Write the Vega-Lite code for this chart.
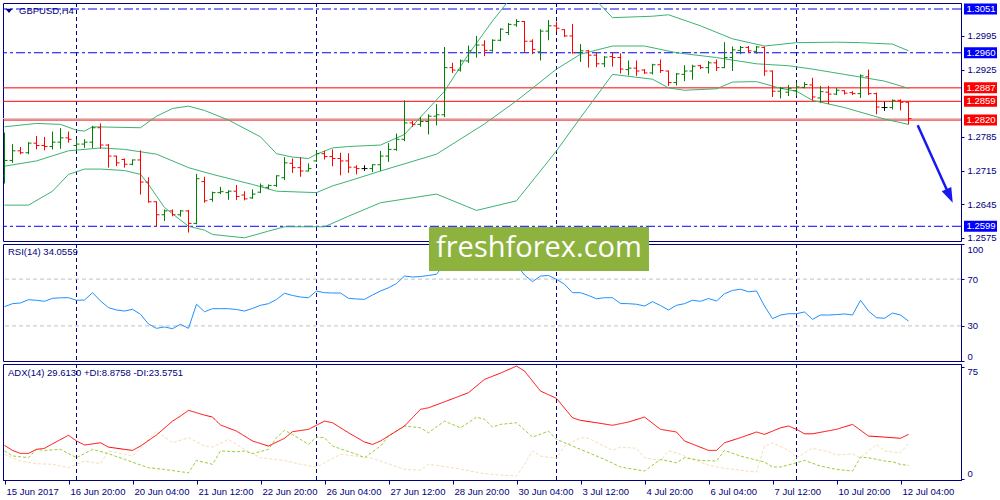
{
"$schema":"https://vega.github.io/schema/vega-lite/v6.json",
"background":"white",
"padding":{"left":2,"top":2,"right":0,"bottom":0},
"autosize":{"type":"pad"},
"bounds":"flush",
"spacing":3,
"resolve":{"scale":{"color":"independent","strokeDash":"independent"}},
"config":{"font":"Liberation Sans","view":{"stroke":"#000080","strokeWidth":1},
"axis":{"domainColor":"#000080","tickColor":"#000080","labelColor":"#000080","labelFont":"Liberation Sans","labelFontSize":9.5,"tickSize":3,"labelPadding":3,"grid":false}},
"datasets":{
"grid":[{"i":9},{"i":39},{"i":69},{"i":99}],
"levels":[{"p":1.3051,"type":"range"},{"p":1.2960,"type":"range"},{"p":1.2599,"type":"range"},{"p":1.2887,"type":"pivot"},{"p":1.2859,"type":"pivot"},{"p":1.2820,"type":"pivot"}],
"arrow":[{"i":114.15,"p":1.2809},{"i":118.14,"p":1.2662}],
"arrowhead":[{"i":118.14,"p":1.2662}],
"bars":[
{"i":0,"o":1.2704,"h":1.2794,"l":1.2688,"c":1.2736},
{"i":1,"o":1.2736,"h":1.2770,"l":1.2731,"c":1.2756},
{"i":2,"o":1.2756,"h":1.2764,"l":1.2749,"c":1.2752},
{"i":3,"o":1.2752,"h":1.2774,"l":1.2749,"c":1.2772},
{"i":4,"o":1.2772,"h":1.2787,"l":1.2759,"c":1.2767},
{"i":5,"o":1.2767,"h":1.2785,"l":1.2757,"c":1.2765},
{"i":6,"o":1.2765,"h":1.2796,"l":1.2759,"c":1.2774},
{"i":7,"o":1.2774,"h":1.2803,"l":1.2760,"c":1.2783},
{"i":8,"o":1.2783,"h":1.2796,"l":1.2773,"c":1.2780},
{"i":9,"o":1.2767,"h":1.2780,"l":1.2757,"c":1.2770},
{"i":10,"o":1.2770,"h":1.2780,"l":1.2762,"c":1.2774},
{"i":11,"o":1.2774,"h":1.2808,"l":1.2762,"c":1.2804},
{"i":12,"o":1.2804,"h":1.2813,"l":1.2760,"c":1.2768},
{"i":13,"o":1.2768,"h":1.2770,"l":1.2721,"c":1.2745},
{"i":14,"o":1.2745,"h":1.2746,"l":1.2724,"c":1.2731},
{"i":15,"o":1.2738,"h":1.2740,"l":1.2721,"c":1.2728},
{"i":16,"o":1.2728,"h":1.2738,"l":1.2726,"c":1.2737},
{"i":17,"o":1.2737,"h":1.2757,"l":1.2665,"c":1.2691},
{"i":18,"o":1.2691,"h":1.2701,"l":1.2648,"c":1.2650},
{"i":19,"o":1.2650,"h":1.2651,"l":1.2599,"c":1.2623},
{"i":20,"o":1.2623,"h":1.2634,"l":1.2610,"c":1.2631},
{"i":21,"o":1.2631,"h":1.2634,"l":1.2620,"c":1.2623},
{"i":22,"o":1.2623,"h":1.2633,"l":1.2619,"c":1.2631},
{"i":23,"o":1.2631,"h":1.2633,"l":1.2586,"c":1.2605},
{"i":24,"o":1.2605,"h":1.2708,"l":1.2603,"c":1.2698},
{"i":25,"o":1.2692,"h":1.2702,"l":1.2648,"c":1.2652},
{"i":26,"o":1.2655,"h":1.2671,"l":1.2650,"c":1.2669},
{"i":27,"o":1.2669,"h":1.2681,"l":1.2666,"c":1.2671},
{"i":28,"o":1.2669,"h":1.2674,"l":1.2654,"c":1.2672},
{"i":29,"o":1.2672,"h":1.2685,"l":1.2654,"c":1.2661},
{"i":30,"o":1.2664,"h":1.2672,"l":1.2653,"c":1.2656},
{"i":31,"o":1.2658,"h":1.2676,"l":1.2656,"c":1.2666},
{"i":32,"o":1.2670,"h":1.2688,"l":1.2668,"c":1.2683},
{"i":33,"o":1.2680,"h":1.2686,"l":1.2676,"c":1.2684},
{"i":34,"o":1.2684,"h":1.2705,"l":1.2681,"c":1.2704},
{"i":35,"o":1.2700,"h":1.2743,"l":1.2695,"c":1.2731},
{"i":36,"o":1.2730,"h":1.2740,"l":1.2710,"c":1.2721},
{"i":37,"o":1.2721,"h":1.2743,"l":1.2702,"c":1.2714},
{"i":38,"o":1.2714,"h":1.2730,"l":1.2713,"c":1.2719},
{"i":39,"o":1.2735,"h":1.2756,"l":1.2733,"c":1.2750},
{"i":40,"o":1.2750,"h":1.2756,"l":1.2738,"c":1.2744},
{"i":41,"o":1.2744,"h":1.2759,"l":1.2724,"c":1.2740},
{"i":42,"o":1.2740,"h":1.2752,"l":1.2705,"c":1.2735},
{"i":43,"o":1.2735,"h":1.2751,"l":1.2710,"c":1.2722},
{"i":44,"o":1.2722,"h":1.2726,"l":1.2707,"c":1.2719},
{"i":45,"o":1.2719,"h":1.2726,"l":1.2714,"c":1.2719},
{"i":46,"o":1.2719,"h":1.2728,"l":1.2712,"c":1.2727},
{"i":47,"o":1.2727,"h":1.2756,"l":1.2714,"c":1.2745},
{"i":48,"o":1.2745,"h":1.2772,"l":1.2733,"c":1.2759},
{"i":49,"o":1.2759,"h":1.2792,"l":1.2756,"c":1.2780},
{"i":50,"o":1.2780,"h":1.2861,"l":1.2776,"c":1.2814},
{"i":51,"o":1.2814,"h":1.2818,"l":1.2806,"c":1.2811},
{"i":52,"o":1.2811,"h":1.2826,"l":1.2806,"c":1.2817},
{"i":53,"o":1.2817,"h":1.2832,"l":1.2790,"c":1.2828},
{"i":54,"o":1.2828,"h":1.2853,"l":1.2809,"c":1.2831},
{"i":55,"o":1.2831,"h":1.2972,"l":1.2826,"c":1.2929},
{"i":56,"o":1.2929,"h":1.2939,"l":1.2918,"c":1.2924},
{"i":57,"o":1.2924,"h":1.2946,"l":1.2921,"c":1.2943},
{"i":58,"o":1.2943,"h":1.2975,"l":1.2939,"c":1.2964},
{"i":59,"o":1.2960,"h":1.2995,"l":1.2950,"c":1.2976},
{"i":60,"o":1.2976,"h":1.2986,"l":1.2953,"c":1.2965},
{"i":61,"o":1.2965,"h":1.2988,"l":1.2962,"c":1.2986},
{"i":62,"o":1.2986,"h":1.3011,"l":1.2984,"c":1.3009},
{"i":63,"o":1.3002,"h":1.3022,"l":1.2997,"c":1.3019},
{"i":64,"o":1.3018,"h":1.3030,"l":1.3014,"c":1.3025},
{"i":65,"o":1.3025,"h":1.3026,"l":1.2960,"c":1.2984},
{"i":66,"o":1.2984,"h":1.2988,"l":1.2957,"c":1.2967},
{"i":67,"o":1.2962,"h":1.3009,"l":1.2944,"c":1.3005},
{"i":68,"o":1.3005,"h":1.3028,"l":1.2986,"c":1.3016},
{"i":69,"o":1.3016,"h":1.3025,"l":1.3004,"c":1.3011},
{"i":70,"o":1.3008,"h":1.3009,"l":1.2993,"c":1.2995},
{"i":71,"o":1.2995,"h":1.3020,"l":1.2958,"c":1.2960},
{"i":72,"o":1.2960,"h":1.2978,"l":1.2941,"c":1.2964},
{"i":73,"o":1.2964,"h":1.2966,"l":1.2929,"c":1.2955},
{"i":74,"o":1.2955,"h":1.2960,"l":1.2930,"c":1.2937},
{"i":75,"o":1.2937,"h":1.2953,"l":1.2930,"c":1.2951},
{"i":76,"o":1.2952,"h":1.2960,"l":1.2931,"c":1.2950},
{"i":77,"o":1.2950,"h":1.2959,"l":1.2917,"c":1.2926},
{"i":78,"o":1.2925,"h":1.2944,"l":1.2913,"c":1.2928},
{"i":79,"o":1.2928,"h":1.2944,"l":1.2912,"c":1.2922},
{"i":80,"o":1.2924,"h":1.2926,"l":1.2916,"c":1.2918},
{"i":81,"o":1.2918,"h":1.2937,"l":1.2915,"c":1.2935},
{"i":82,"o":1.2935,"h":1.2946,"l":1.2918,"c":1.2923},
{"i":83,"o":1.2922,"h":1.2923,"l":1.2891,"c":1.2898},
{"i":84,"o":1.2898,"h":1.2918,"l":1.2892,"c":1.2916},
{"i":85,"o":1.2915,"h":1.2934,"l":1.2901,"c":1.2922},
{"i":86,"o":1.2922,"h":1.2935,"l":1.2904,"c":1.2932},
{"i":87,"o":1.2933,"h":1.2935,"l":1.2926,"c":1.2929},
{"i":88,"o":1.2929,"h":1.2943,"l":1.2917,"c":1.2939},
{"i":89,"o":1.2939,"h":1.2946,"l":1.2922,"c":1.2929},
{"i":90,"o":1.2929,"h":1.2982,"l":1.2928,"c":1.2950},
{"i":91,"o":1.2950,"h":1.2973,"l":1.2922,"c":1.2966},
{"i":92,"o":1.2965,"h":1.2974,"l":1.2957,"c":1.2971},
{"i":93,"o":1.2971,"h":1.2974,"l":1.2960,"c":1.2964},
{"i":94,"o":1.2963,"h":1.2974,"l":1.2958,"c":1.2972},
{"i":95,"o":1.2971,"h":1.2973,"l":1.2912,"c":1.2922},
{"i":96,"o":1.2922,"h":1.2923,"l":1.2868,"c":1.2880},
{"i":97,"o":1.2880,"h":1.2889,"l":1.2865,"c":1.2886},
{"i":98,"o":1.2878,"h":1.2893,"l":1.2870,"c":1.2886},
{"i":99,"o":1.2881,"h":1.2898,"l":1.2870,"c":1.2889},
{"i":100,"o":1.2888,"h":1.2899,"l":1.2886,"c":1.2894},
{"i":101,"o":1.2893,"h":1.2908,"l":1.2861,"c":1.2868},
{"i":102,"o":1.2866,"h":1.2891,"l":1.2856,"c":1.2879},
{"i":103,"o":1.2878,"h":1.2891,"l":1.2853,"c":1.2874},
{"i":104,"o":1.2874,"h":1.2887,"l":1.2872,"c":1.2882},
{"i":105,"o":1.2881,"h":1.2882,"l":1.2873,"c":1.2876},
{"i":106,"o":1.2877,"h":1.2880,"l":1.2872,"c":1.2875},
{"i":107,"o":1.2875,"h":1.2915,"l":1.2866,"c":1.2912},
{"i":108,"o":1.2910,"h":1.2925,"l":1.2872,"c":1.2875},
{"i":109,"o":1.2875,"h":1.2877,"l":1.2832,"c":1.2847},
{"i":110,"o":1.2846,"h":1.2858,"l":1.2839,"c":1.2846},
{"i":111,"o":1.2846,"h":1.2863,"l":1.2842,"c":1.2861},
{"i":112,"o":1.2861,"h":1.2863,"l":1.2840,"c":1.2857},
{"i":113,"o":1.2857,"h":1.2858,"l":1.2811,"c":1.2823}
],
"bb":[
{"band":"upper","i":0,"v":1.2806},{"band":"upper","i":4,"v":1.2813},{"band":"upper","i":7,"v":1.2811},{"band":"upper","i":9,"v":1.2799},{"band":"upper","i":10,"v":1.2797},{"band":"upper","i":11,"v":1.2806},{"band":"upper","i":17,"v":1.2804},{"band":"upper","i":19,"v":1.2828},{"band":"upper","i":21,"v":1.2844},{"band":"upper","i":23,"v":1.2849},{"band":"upper","i":25,"v":1.2840},{"band":"upper","i":28,"v":1.2820},{"band":"upper","i":32,"v":1.2785},{"band":"upper","i":34,"v":1.2750},{"band":"upper","i":36,"v":1.2743},{"band":"upper","i":38,"v":1.2740},{"band":"upper","i":39,"v":1.2749},{"band":"upper","i":41,"v":1.2762},{"band":"upper","i":43,"v":1.2765},{"band":"upper","i":47,"v":1.2768},{"band":"upper","i":50,"v":1.2790},{"band":"upper","i":55,"v":1.2880},{"band":"upper","i":58,"v":1.2957},{"band":"upper","i":61,"v":1.3026},{"band":"upper","i":63,"v":1.3068},{"band":"upper","i":66,"v":1.3099},{"band":"upper","i":68,"v":1.3109},{"band":"upper","i":72,"v":1.3090},{"band":"upper","i":74,"v":1.3068},{"band":"upper","i":76,"v":1.3033},{"band":"upper","i":81,"v":1.3036},{"band":"upper","i":83,"v":1.3039},{"band":"upper","i":87,"v":1.3016},{"band":"upper","i":91,"v":1.2989},{"band":"upper","i":95,"v":1.2974},{"band":"upper","i":99,"v":1.2981},{"band":"upper","i":104,"v":1.2982},{"band":"upper","i":107,"v":1.2981},{"band":"upper","i":111,"v":1.2978},{"band":"upper","i":113,"v":1.2964},
{"band":"mid","i":0,"v":1.2724},{"band":"mid","i":4,"v":1.2735},{"band":"mid","i":8,"v":1.2756},{"band":"mid","i":12,"v":1.2762},{"band":"mid","i":15,"v":1.2759},{"band":"mid","i":19,"v":1.2749},{"band":"mid","i":23,"v":1.2721},{"band":"mid","i":26,"v":1.2707},{"band":"mid","i":31,"v":1.2686},{"band":"mid","i":34,"v":1.2672},{"band":"mid","i":39,"v":1.2669},{"band":"mid","i":41,"v":1.2683},{"band":"mid","i":43,"v":1.2693},{"band":"mid","i":47,"v":1.2714},{"band":"mid","i":54,"v":1.2749},{"band":"mid","i":60,"v":1.2812},{"band":"mid","i":64,"v":1.2860},{"band":"mid","i":69,"v":1.2926},{"band":"mid","i":72,"v":1.2957},{"band":"mid","i":76,"v":1.2974},{"band":"mid","i":80,"v":1.2974},{"band":"mid","i":84,"v":1.2960},{"band":"mid","i":89,"v":1.2950},{"band":"mid","i":94,"v":1.2937},{"band":"mid","i":98,"v":1.2933},{"band":"mid","i":101,"v":1.2926},{"band":"mid","i":105,"v":1.2915},{"band":"mid","i":110,"v":1.2901},{"band":"mid","i":113,"v":1.2886},
{"band":"lower","i":0,"v":1.2643},{"band":"lower","i":3,"v":1.2643},{"band":"lower","i":6,"v":1.2672},{"band":"lower","i":8,"v":1.2707},{"band":"lower","i":10,"v":1.2718},{"band":"lower","i":12,"v":1.2718},{"band":"lower","i":15,"v":1.2715},{"band":"lower","i":17,"v":1.2707},{"band":"lower","i":18,"v":1.2686},{"band":"lower","i":20,"v":1.2638},{"band":"lower","i":23,"v":1.2599},{"band":"lower","i":25,"v":1.2591},{"band":"lower","i":26,"v":1.2582},{"band":"lower","i":30,"v":1.2575},{"band":"lower","i":33,"v":1.2589},{"band":"lower","i":35,"v":1.2598},{"band":"lower","i":40,"v":1.2598},{"band":"lower","i":43,"v":1.2620},{"band":"lower","i":47,"v":1.2648},{"band":"lower","i":54,"v":1.2666},{"band":"lower","i":59,"v":1.2632},{"band":"lower","i":64,"v":1.2652},{"band":"lower","i":69,"v":1.2756},{"band":"lower","i":72,"v":1.2825},{"band":"lower","i":76,"v":1.2915},{"band":"lower","i":81,"v":1.2905},{"band":"lower","i":83,"v":1.2887},{"band":"lower","i":85,"v":1.2882},{"band":"lower","i":89,"v":1.2885},{"band":"lower","i":91,"v":1.2899},{"band":"lower","i":94,"v":1.2900},{"band":"lower","i":97,"v":1.2886},{"band":"lower","i":99,"v":1.2880},{"band":"lower","i":101,"v":1.2861},{"band":"lower","i":105,"v":1.2846},{"band":"lower","i":110,"v":1.2822},{"band":"lower","i":113,"v":1.2811}
],
"rsi":[
{"i":0,"v":46.4},{"i":1,"v":49.0},{"i":2,"v":49.6},{"i":3,"v":52.4},{"i":4,"v":51.9},{"i":5,"v":51.0},{"i":6,"v":53.6},{"i":7,"v":54.0},{"i":8,"v":54.1},{"i":9,"v":51.9},{"i":10,"v":52.1},{"i":11,"v":58.4},{"i":12,"v":51.3},{"i":13,"v":45.6},{"i":14,"v":43.6},{"i":15,"v":42.7},{"i":16,"v":44.2},{"i":17,"v":39.9},{"i":18,"v":31.6},{"i":19,"v":27.9},{"i":20,"v":29.1},{"i":21,"v":27.6},{"i":22,"v":31.4},{"i":23,"v":27.9},{"i":24,"v":48.5},{"i":25,"v":42.1},{"i":26,"v":44.7},{"i":27,"v":44.7},{"i":28,"v":44.7},{"i":29,"v":44.0},{"i":30,"v":42.7},{"i":31,"v":44.9},{"i":32,"v":47.6},{"i":33,"v":49.0},{"i":34,"v":52.6},{"i":35,"v":57.9},{"i":36,"v":56.0},{"i":37,"v":54.7},{"i":38,"v":54.1},{"i":39,"v":59.8},{"i":40,"v":58.4},{"i":41,"v":58.1},{"i":42,"v":58.1},{"i":43,"v":53.6},{"i":44,"v":53.0},{"i":45,"v":52.7},{"i":46,"v":56.4},{"i":47,"v":59.8},{"i":48,"v":62.6},{"i":49,"v":66.2},{"i":50,"v":72.6},{"i":51,"v":71.8},{"i":52,"v":72.2},{"i":53,"v":73.1},{"i":54,"v":74.1},{"i":55,"v":82.9},{"i":56,"v":80.5},{"i":57,"v":81.5},{"i":58,"v":83.5},{"i":59,"v":85.0},{"i":60,"v":82.0},{"i":61,"v":84.0},{"i":62,"v":86.5},{"i":63,"v":87.5},{"i":64,"v":82.0},{"i":65,"v":73.5},{"i":66,"v":67.8},{"i":67,"v":72.6},{"i":68,"v":73.1},{"i":69,"v":69.8},{"i":70,"v":65.6},{"i":71,"v":58.4},{"i":72,"v":58.4},{"i":73,"v":56.0},{"i":74,"v":53.2},{"i":75,"v":54.1},{"i":76,"v":54.1},{"i":77,"v":49.1},{"i":78,"v":49.0},{"i":79,"v":48.5},{"i":80,"v":47.0},{"i":81,"v":50.7},{"i":82,"v":47.4},{"i":83,"v":43.6},{"i":84,"v":47.6},{"i":85,"v":49.0},{"i":86,"v":51.9},{"i":87,"v":51.0},{"i":88,"v":53.4},{"i":89,"v":51.3},{"i":90,"v":57.5},{"i":91,"v":60.3},{"i":92,"v":61.3},{"i":93,"v":59.2},{"i":94,"v":59.8},{"i":95,"v":47.0},{"i":96,"v":36.2},{"i":97,"v":39.3},{"i":98,"v":40.4},{"i":99,"v":40.4},{"i":100,"v":41.9},{"i":101,"v":35.6},{"i":102,"v":39.3},{"i":103,"v":39.3},{"i":104,"v":39.7},{"i":105,"v":40.2},{"i":106,"v":39.3},{"i":107,"v":51.9},{"i":108,"v":42.7},{"i":109,"v":37.0},{"i":110,"v":36.5},{"i":111,"v":41.0},{"i":112,"v":39.3},{"i":113,"v":34.1}
],
"adx":[
{"line":"-DI","i":0,"v":16.3},{"line":"-DI","i":2,"v":11.8},{"line":"-DI","i":4,"v":10.0},{"line":"-DI","i":6,"v":9.6},{"line":"-DI","i":8,"v":7.3},{"line":"-DI","i":9,"v":9.6},{"line":"-DI","i":10,"v":11.8},{"line":"-DI","i":12,"v":10.0},{"line":"-DI","i":13,"v":18.5},{"line":"-DI","i":15,"v":16.3},{"line":"-DI","i":16,"v":15.1},{"line":"-DI","i":19,"v":31.8},{"line":"-DI","i":21,"v":24.0},{"line":"-DI","i":23,"v":27.4},{"line":"-DI","i":25,"v":21.8},{"line":"-DI","i":26,"v":21.1},{"line":"-DI","i":28,"v":26.3},{"line":"-DI","i":30,"v":19.6},{"line":"-DI","i":32,"v":14.0},{"line":"-DI","i":35,"v":12.2},{"line":"-DI","i":37,"v":9.6},{"line":"-DI","i":39,"v":7.8},{"line":"-DI","i":40,"v":10.6},{"line":"-DI","i":42,"v":16.3},{"line":"-DI","i":44,"v":15.1},{"line":"-DI","i":46,"v":13.6},{"line":"-DI","i":50,"v":6.2},{"line":"-DI","i":52,"v":5.6},{"line":"-DI","i":53,"v":9.6},{"line":"-DI","i":56,"v":7.3},{"line":"-DI","i":60,"v":3.3},{"line":"-DI","i":62,"v":2.4},{"line":"-DI","i":64,"v":1.7},{"line":"-DI","i":65,"v":9.6},{"line":"-DI","i":66,"v":18.5},{"line":"-DI","i":67,"v":15.1},{"line":"-DI","i":69,"v":13.6},{"line":"-DI","i":70,"v":21.8},{"line":"-DI","i":72,"v":27.4},{"line":"-DI","i":73,"v":27.0},{"line":"-DI","i":76,"v":18.9},{"line":"-DI","i":77,"v":21.1},{"line":"-DI","i":79,"v":20.3},{"line":"-DI","i":80,"v":14.0},{"line":"-DI","i":82,"v":12.2},{"line":"-DI","i":83,"v":18.5},{"line":"-DI","i":84,"v":17.3},{"line":"-DI","i":86,"v":12.9},{"line":"-DI","i":88,"v":9.1},{"line":"-DI","i":90,"v":6.9},{"line":"-DI","i":94,"v":4.4},{"line":"-DI","i":95,"v":21.8},{"line":"-DI","i":96,"v":24.0},{"line":"-DI","i":98,"v":18.9},{"line":"-DI","i":99,"v":14.0},{"line":"-DI","i":101,"v":20.3},{"line":"-DI","i":103,"v":18.0},{"line":"-DI","i":104,"v":15.8},{"line":"-DI","i":106,"v":16.7},{"line":"-DI","i":107,"v":14.0},{"line":"-DI","i":109,"v":22.9},{"line":"-DI","i":110,"v":18.5},{"line":"-DI","i":112,"v":17.3},{"line":"-DI","i":113,"v":23.6},
{"line":"+DI","i":0,"v":18.5},{"line":"+DI","i":1,"v":15.2},{"line":"+DI","i":3,"v":14.0},{"line":"+DI","i":4,"v":19.6},{"line":"+DI","i":5,"v":18.9},{"line":"+DI","i":7,"v":19.6},{"line":"+DI","i":9,"v":14.0},{"line":"+DI","i":11,"v":19.6},{"line":"+DI","i":13,"v":16.7},{"line":"+DI","i":15,"v":12.9},{"line":"+DI","i":18,"v":7.3},{"line":"+DI","i":20,"v":6.2},{"line":"+DI","i":23,"v":3.9},{"line":"+DI","i":24,"v":12.2},{"line":"+DI","i":26,"v":9.6},{"line":"+DI","i":27,"v":18.5},{"line":"+DI","i":29,"v":18.0},{"line":"+DI","i":30,"v":18.5},{"line":"+DI","i":31,"v":16.7},{"line":"+DI","i":33,"v":19.6},{"line":"+DI","i":34,"v":27.4},{"line":"+DI","i":35,"v":32.3},{"line":"+DI","i":36,"v":29.6},{"line":"+DI","i":38,"v":22.9},{"line":"+DI","i":39,"v":27.8},{"line":"+DI","i":40,"v":27.4},{"line":"+DI","i":41,"v":21.8},{"line":"+DI","i":44,"v":16.3},{"line":"+DI","i":45,"v":14.0},{"line":"+DI","i":47,"v":21.8},{"line":"+DI","i":48,"v":28.5},{"line":"+DI","i":50,"v":35.2},{"line":"+DI","i":52,"v":34.0},{"line":"+DI","i":53,"v":30.7},{"line":"+DI","i":55,"v":38.5},{"line":"+DI","i":57,"v":34.0},{"line":"+DI","i":59,"v":41.2},{"line":"+DI","i":60,"v":39.7},{"line":"+DI","i":61,"v":34.5},{"line":"+DI","i":62,"v":36.3},{"line":"+DI","i":64,"v":37.4},{"line":"+DI","i":66,"v":27.8},{"line":"+DI","i":68,"v":31.8},{"line":"+DI","i":69,"v":26.3},{"line":"+DI","i":72,"v":19.6},{"line":"+DI","i":75,"v":12.9},{"line":"+DI","i":77,"v":7.8},{"line":"+DI","i":80,"v":5.1},{"line":"+DI","i":82,"v":12.9},{"line":"+DI","i":84,"v":10.6},{"line":"+DI","i":85,"v":14.0},{"line":"+DI","i":87,"v":12.2},{"line":"+DI","i":89,"v":11.8},{"line":"+DI","i":90,"v":18.9},{"line":"+DI","i":92,"v":15.1},{"line":"+DI","i":95,"v":11.1},{"line":"+DI","i":96,"v":7.8},{"line":"+DI","i":97,"v":7.8},{"line":"+DI","i":99,"v":10.6},{"line":"+DI","i":100,"v":12.2},{"line":"+DI","i":102,"v":8.4},{"line":"+DI","i":104,"v":6.2},{"line":"+DI","i":106,"v":5.1},{"line":"+DI","i":107,"v":14.4},{"line":"+DI","i":108,"v":14.0},{"line":"+DI","i":110,"v":11.8},{"line":"+DI","i":111,"v":11.3},{"line":"+DI","i":112,"v":9.5},{"line":"+DI","i":113,"v":8.9},
{"line":"ADX","i":0,"v":22.3},{"line":"ADX","i":1,"v":18.9},{"line":"ADX","i":2,"v":16.9},{"line":"ADX","i":3,"v":16.9},{"line":"ADX","i":4,"v":19.6},{"line":"ADX","i":5,"v":20.3},{"line":"ADX","i":6,"v":23.3},{"line":"ADX","i":8,"v":29.0},{"line":"ADX","i":9,"v":25.2},{"line":"ADX","i":10,"v":22.5},{"line":"ADX","i":12,"v":24.0},{"line":"ADX","i":13,"v":21.1},{"line":"ADX","i":15,"v":19.6},{"line":"ADX","i":16,"v":18.9},{"line":"ADX","i":17,"v":21.8},{"line":"ADX","i":19,"v":29.2},{"line":"ADX","i":21,"v":38.5},{"line":"ADX","i":22,"v":41.9},{"line":"ADX","i":23,"v":45.7},{"line":"ADX","i":25,"v":42.5},{"line":"ADX","i":26,"v":41.2},{"line":"ADX","i":27,"v":35.9},{"line":"ADX","i":29,"v":31.8},{"line":"ADX","i":31,"v":25.2},{"line":"ADX","i":33,"v":21.8},{"line":"ADX","i":35,"v":27.0},{"line":"ADX","i":36,"v":31.4},{"line":"ADX","i":38,"v":33.0},{"line":"ADX","i":39,"v":35.7},{"line":"ADX","i":40,"v":38.5},{"line":"ADX","i":41,"v":37.4},{"line":"ADX","i":43,"v":30.7},{"line":"ADX","i":45,"v":24.5},{"line":"ADX","i":46,"v":22.9},{"line":"ADX","i":47,"v":25.2},{"line":"ADX","i":50,"v":35.2},{"line":"ADX","i":52,"v":46.4},{"line":"ADX","i":53,"v":47.4},{"line":"ADX","i":55,"v":51.4},{"line":"ADX","i":58,"v":57.5},{"line":"ADX","i":60,"v":66.4},{"line":"ADX","i":62,"v":70.6},{"line":"ADX","i":64,"v":75.3},{"line":"ADX","i":65,"v":72.0},{"line":"ADX","i":67,"v":58.6},{"line":"ADX","i":69,"v":53.7},{"line":"ADX","i":71,"v":40.7},{"line":"ADX","i":72,"v":39.0},{"line":"ADX","i":74,"v":37.4},{"line":"ADX","i":76,"v":35.7},{"line":"ADX","i":78,"v":37.9},{"line":"ADX","i":80,"v":41.2},{"line":"ADX","i":82,"v":33.0},{"line":"ADX","i":84,"v":31.2},{"line":"ADX","i":85,"v":25.2},{"line":"ADX","i":88,"v":18.9},{"line":"ADX","i":89,"v":18.9},{"line":"ADX","i":90,"v":24.0},{"line":"ADX","i":92,"v":27.4},{"line":"ADX","i":94,"v":31.2},{"line":"ADX","i":95,"v":29.6},{"line":"ADX","i":97,"v":34.0},{"line":"ADX","i":98,"v":35.2},{"line":"ADX","i":99,"v":33.0},{"line":"ADX","i":100,"v":30.0},{"line":"ADX","i":101,"v":30.0},{"line":"ADX","i":104,"v":33.0},{"line":"ADX","i":106,"v":36.3},{"line":"ADX","i":108,"v":28.5},{"line":"ADX","i":110,"v":27.8},{"line":"ADX","i":112,"v":27.0},{"line":"ADX","i":113,"v":29.6}
]
},
"vconcat":[
{"width":958,"height":238,
"layer":[
{"data":{"name":"grid"},"mark":{"type":"rule","color":"#000080","strokeDash":[4,3],"strokeWidth":1},
 "encoding":{"x":{"field":"i","type":"quantitative","scale":{"domain":[-0.1875,119.5625],"nice":false,"zero":false},"axis":null}}},
{"data":{"values":[{"p":1.2823}]},"mark":{"type":"rule","color":"#C8C8C8","strokeWidth":1},
 "encoding":{"y":{"field":"p","type":"quantitative","scale":{"domain":[1.25684,1.30635],"nice":false,"zero":false},"axis":{"orient":"right","values":[1.2575,1.2645,1.2715,1.2785,1.2925,1.2995],"format":".4f","title":null}}}},
{"data":{"name":"levels"},"mark":{"type":"rule","strokeWidth":1},
 "encoding":{"y":{"field":"p","type":"quantitative","scale":{"domain":[1.25684,1.30635],"nice":false,"zero":false},"axis":{"orient":"right","values":[1.2575,1.2645,1.2715,1.2785,1.2925,1.2995],"format":".4f","title":null}},
 "color":{"field":"type","type":"nominal","scale":{"domain":["range","pivot"],"range":["#0000FF","#FF0000"]},"legend":null},
 "strokeDash":{"field":"type","type":"nominal","scale":{"domain":["range","pivot"],"range":[[9,3,3,3],[1,0]]},"legend":null}}},
{"data":{"name":"bb"},"mark":{"type":"line","color":"#3CB371","strokeWidth":1,"clip":true},
 "encoding":{"x":{"field":"i","type":"quantitative","scale":{"domain":[-0.1875,119.5625],"nice":false,"zero":false},"axis":null},
 "y":{"field":"v","type":"quantitative","scale":{"domain":[1.25684,1.30635],"nice":false,"zero":false},"axis":{"orient":"right","values":[1.2575,1.2645,1.2715,1.2785,1.2925,1.2995],"format":".4f","title":null}},
 "detail":{"field":"band","type":"nominal"}}},
{"data":{"name":"bars"},"mark":{"type":"rule","strokeWidth":1,"clip":true},
 "encoding":{"x":{"field":"i","type":"quantitative","scale":{"domain":[-0.1875,119.5625],"nice":false,"zero":false},"axis":null},
 "y":{"field":"l","type":"quantitative","scale":{"domain":[1.25684,1.30635],"nice":false,"zero":false},"axis":{"orient":"right","values":[1.2575,1.2645,1.2715,1.2785,1.2925,1.2995],"format":".4f","title":null}},
 "y2":{"field":"h"},
 "color":{"condition":[{"test":"datum.c > datum.o","value":"#008000"},{"test":"datum.c < datum.o","value":"#FF0000"}],"value":"#000000"}}},
{"data":{"name":"bars"},"mark":{"type":"rule","strokeWidth":1,"clip":true,"xOffset":-3,"x2Offset":0},
 "encoding":{"x":{"field":"i","type":"quantitative","scale":{"domain":[-0.1875,119.5625],"nice":false,"zero":false},"axis":null},
 "x2":{"field":"i"},
 "y":{"field":"o","type":"quantitative","scale":{"domain":[1.25684,1.30635],"nice":false,"zero":false},"axis":{"orient":"right","values":[1.2575,1.2645,1.2715,1.2785,1.2925,1.2995],"format":".4f","title":null}},
 "color":{"condition":[{"test":"datum.c > datum.o","value":"#008000"},{"test":"datum.c < datum.o","value":"#FF0000"}],"value":"#000000"}}},
{"data":{"name":"bars"},"mark":{"type":"rule","strokeWidth":1,"clip":true,"xOffset":0,"x2Offset":3},
 "encoding":{"x":{"field":"i","type":"quantitative","scale":{"domain":[-0.1875,119.5625],"nice":false,"zero":false},"axis":null},
 "x2":{"field":"i"},
 "y":{"field":"c","type":"quantitative","scale":{"domain":[1.25684,1.30635],"nice":false,"zero":false},"axis":{"orient":"right","values":[1.2575,1.2645,1.2715,1.2785,1.2925,1.2995],"format":".4f","title":null}},
 "color":{"condition":[{"test":"datum.c > datum.o","value":"#008000"},{"test":"datum.c < datum.o","value":"#FF0000"}],"value":"#000000"}}},
{"data":{"name":"arrow"},"mark":{"type":"line","color":"#1818F0","strokeWidth":2.5},
 "encoding":{"x":{"field":"i","type":"quantitative","scale":{"domain":[-0.1875,119.5625],"nice":false,"zero":false},"axis":null},
 "y":{"field":"p","type":"quantitative","scale":{"domain":[1.25684,1.30635],"nice":false,"zero":false},"axis":{"orient":"right","values":[1.2575,1.2645,1.2715,1.2785,1.2925,1.2995],"format":".4f","title":null}}}},
{"data":{"name":"arrowhead"},"mark":{"type":"point","shape":"M0,1L-0.7,-1L0.7,-1Z","size":225,"filled":true,"opacity":1,"color":"#1818F0","angle":335.5},
 "encoding":{"x":{"field":"i","type":"quantitative","scale":{"domain":[-0.1875,119.5625],"nice":false,"zero":false},"axis":null},
 "y":{"field":"p","type":"quantitative","scale":{"domain":[1.25684,1.30635],"nice":false,"zero":false},"axis":{"orient":"right","values":[1.2575,1.2645,1.2715,1.2785,1.2925,1.2995],"format":".4f","title":null}}}},
{"data":{"name":"levels"},"mark":{"type":"point","shape":"M-1,-0.3333H1V0.3333H-1Z","size":1089,"filled":true,"opacity":1,"strokeWidth":0},
 "encoding":{"x":{"datum":122,"type":"quantitative","scale":{"domain":[-0.1875,119.5625],"nice":false,"zero":false},"axis":null},
 "y":{"field":"p","type":"quantitative","scale":{"domain":[1.25684,1.30635],"nice":false,"zero":false},"axis":{"orient":"right","values":[1.2575,1.2645,1.2715,1.2785,1.2925,1.2995],"format":".4f","title":null}},
 "color":{"field":"type","type":"nominal","scale":{"domain":["range","pivot"],"range":["#0000FF","#FF0000"]},"legend":null}}},
{"data":{"name":"levels"},"mark":{"type":"text","color":"#FFFFFF","fontSize":9.5,"align":"center","baseline":"middle","dx":0.5},
 "encoding":{"x":{"datum":122,"type":"quantitative","scale":{"domain":[-0.1875,119.5625],"nice":false,"zero":false},"axis":null},
 "y":{"field":"p","type":"quantitative","scale":{"domain":[1.25684,1.30635],"nice":false,"zero":false},"axis":{"orient":"right","values":[1.2575,1.2645,1.2715,1.2785,1.2925,1.2995],"format":".4f","title":null}},
 "text":{"field":"p","type":"quantitative","format":".4f"}}},
{"data":{"values":[{"label":"GBPUSD,H4"}]},"mark":{"type":"point","shape":"M-1,-0.6L1,-0.6L0,0.6Z","size":49,"filled":true,"opacity":1,"color":"#000080"},
 "encoding":{"x":{"datum":0.5625,"type":"quantitative","scale":{"domain":[-0.1875,119.5625],"nice":false,"zero":false},"axis":null},
 "y":{"datum":1.3047,"type":"quantitative","scale":{"domain":[1.25684,1.30635],"nice":false,"zero":false},"axis":{"orient":"right","values":[1.2575,1.2645,1.2715,1.2785,1.2925,1.2995],"format":".4f","title":null}}}},
{"data":{"values":[{"label":"GBPUSD,H4"}]},"mark":{"type":"text","align":"left","baseline":"middle","dx":14.5,"fontSize":9.5,"color":"#000080"},
 "encoding":{"x":{"datum":0,"type":"quantitative","scale":{"domain":[-0.1875,119.5625],"nice":false,"zero":false},"axis":null},
 "y":{"datum":1.3047,"type":"quantitative","scale":{"domain":[1.25684,1.30635],"nice":false,"zero":false},"axis":{"orient":"right","values":[1.2575,1.2645,1.2715,1.2785,1.2925,1.2995],"format":".4f","title":null}},
 "text":{"field":"label"}}}
]},
{"width":958,"height":117,
"layer":[
{"data":{"name":"grid"},"mark":{"type":"rule","color":"#000080","strokeDash":[4,3],"strokeWidth":1},
 "encoding":{"x":{"field":"i","type":"quantitative","scale":{"domain":[-0.1875,119.5625],"nice":false,"zero":false},"axis":null}}},
{"data":{"values":[{"v":30},{"v":70}]},"mark":{"type":"rule","color":"#C0C0C0","strokeDash":[4,3],"strokeWidth":1},
 "encoding":{"y":{"field":"v","type":"quantitative","scale":{"domain":[0,100],"nice":false,"zero":false},"axis":{"orient":"right","values":[0,30,70,100],"labelFlush":true,"title":null}}}},
{"data":{"name":"rsi"},"mark":{"type":"line","color":"#1E90FF","strokeWidth":1},
 "encoding":{"x":{"field":"i","type":"quantitative","scale":{"domain":[-0.1875,119.5625],"nice":false,"zero":false},"axis":null},
 "y":{"field":"v","type":"quantitative","scale":{"domain":[0,100],"nice":false,"zero":false},"axis":{"orient":"right","values":[0,30,70,100],"labelFlush":true,"title":null}}}},
{"data":{"values":[{"label":"RSI(14) 34.0559"}]},"mark":{"type":"text","align":"left","baseline":"middle","dx":3.5,"fontSize":9.5,"color":"#000080"},
 "encoding":{"x":{"datum":0,"type":"quantitative","scale":{"domain":[-0.1875,119.5625],"nice":false,"zero":false},"axis":null},
 "y":{"datum":93.2,"type":"quantitative","scale":{"domain":[0,100],"nice":false,"zero":false},"axis":{"orient":"right","values":[0,30,70,100],"labelFlush":true,"title":null}},
 "text":{"field":"label"}}},
{"data":{"values":[{"label":"freshforex.com"}]},"mark":{"type":"rect","color":"#8DB33E","opacity":1},
 "encoding":{"x":{"datum":53.06,"type":"quantitative","scale":{"domain":[-0.1875,119.5625],"nice":false,"zero":false},"axis":null},
 "x2":{"datum":80.56},
 "y":{"datum":76.9,"type":"quantitative","scale":{"domain":[0,100],"nice":false,"zero":false},"axis":{"orient":"right","values":[0,30,70,100],"labelFlush":true,"title":null}},
 "y2":{"datum":114.5}}},
{"data":{"values":[{"label":"freshforex.com"}]},"mark":{"type":"text","align":"center","baseline":"middle","font":"Open Sans","fontSize":29,"color":"#FFFFFF"},
 "encoding":{"x":{"datum":66.8,"type":"quantitative","scale":{"domain":[-0.1875,119.5625],"nice":false,"zero":false},"axis":null},
 "y":{"datum":96.6,"type":"quantitative","scale":{"domain":[0,100],"nice":false,"zero":false},"axis":{"orient":"right","values":[0,30,70,100],"labelFlush":true,"title":null}},
 "text":{"field":"label"}}}
]},
{"width":958,"height":116,
"layer":[
{"data":{"name":"grid"},"mark":{"type":"rule","color":"#000080","strokeDash":[4,3],"strokeWidth":1},
 "encoding":{"x":{"field":"i","type":"quantitative","scale":{"domain":[-0.1875,119.5625],"nice":false,"zero":false},
   "axis":{"values":[0,8,16,24,32,40,48,56,64,72,80,88,96,104,112],"labelExpr":"['15 Jun 2017','16 Jun 20:00','20 Jun 04:00','21 Jun 12:00','22 Jun 20:00','26 Jun 04:00','27 Jun 12:00','28 Jun 20:00','30 Jun 04:00','3 Jul 12:00','4 Jul 20:00','6 Jul 04:00','7 Jul 12:00','10 Jul 20:00','12 Jul 04:00'][round(datum.value/8)]","labelAlign":"left","labelFlush":false,"labelOverlap":false,"labelBound":false,"tickSize":4,"labelPadding":2,"labelOffset":1.5,"title":null}}}},
{"data":{"name":"adx"},"mark":{"type":"line","strokeWidth":1},
 "encoding":{"x":{"field":"i","type":"quantitative","scale":{"domain":[-0.1875,119.5625],"nice":false,"zero":false},
   "axis":{"values":[0,8,16,24,32,40,48,56,64,72,80,88,96,104,112],"labelExpr":"['15 Jun 2017','16 Jun 20:00','20 Jun 04:00','21 Jun 12:00','22 Jun 20:00','26 Jun 04:00','27 Jun 12:00','28 Jun 20:00','30 Jun 04:00','3 Jul 12:00','4 Jul 20:00','6 Jul 04:00','7 Jul 12:00','10 Jul 20:00','12 Jul 04:00'][round(datum.value/8)]","labelAlign":"left","labelFlush":false,"labelOverlap":false,"labelBound":false,"tickSize":4,"labelPadding":2,"labelOffset":1.5,"title":null}},
 "y":{"field":"v","type":"quantitative","scale":{"domain":[-0.9,76.7],"nice":false,"zero":false},"axis":{"orient":"right","values":[0,75],"labelFlush":5,"title":null}},
 "color":{"field":"line","type":"nominal","scale":{"domain":["ADX","+DI","-DI"],"range":["#FF0000","#9ACD32","#F5DEB3"]},"legend":null},
 "strokeDash":{"field":"line","type":"nominal","scale":{"domain":["ADX","+DI","-DI"],"range":[[1,0],[3,2],[3,2]]},"legend":null}}},
{"data":{"values":[{"label":"ADX(14) 29.6130 +DI:8.8758 -DI:23.5751"}]},"mark":{"type":"text","align":"left","baseline":"middle","dx":3.5,"fontSize":9.5,"color":"#000080"},
 "encoding":{"x":{"datum":0,"type":"quantitative","scale":{"domain":[-0.1875,119.5625],"nice":false,"zero":false},
   "axis":{"values":[0,8,16,24,32,40,48,56,64,72,80,88,96,104,112],"labelExpr":"['15 Jun 2017','16 Jun 20:00','20 Jun 04:00','21 Jun 12:00','22 Jun 20:00','26 Jun 04:00','27 Jun 12:00','28 Jun 20:00','30 Jun 04:00','3 Jul 12:00','4 Jul 20:00','6 Jul 04:00','7 Jul 12:00','10 Jul 20:00','12 Jul 04:00'][round(datum.value/8)]","labelAlign":"left","labelFlush":false,"labelOverlap":false,"labelBound":false,"tickSize":4,"labelPadding":2,"labelOffset":1.5,"title":null}},
 "y":{"datum":70.7,"type":"quantitative","scale":{"domain":[-0.9,76.7],"nice":false,"zero":false},"axis":{"orient":"right","values":[0,75],"labelFlush":5,"title":null}},
 "text":{"field":"label"}}}
]}
]
}
